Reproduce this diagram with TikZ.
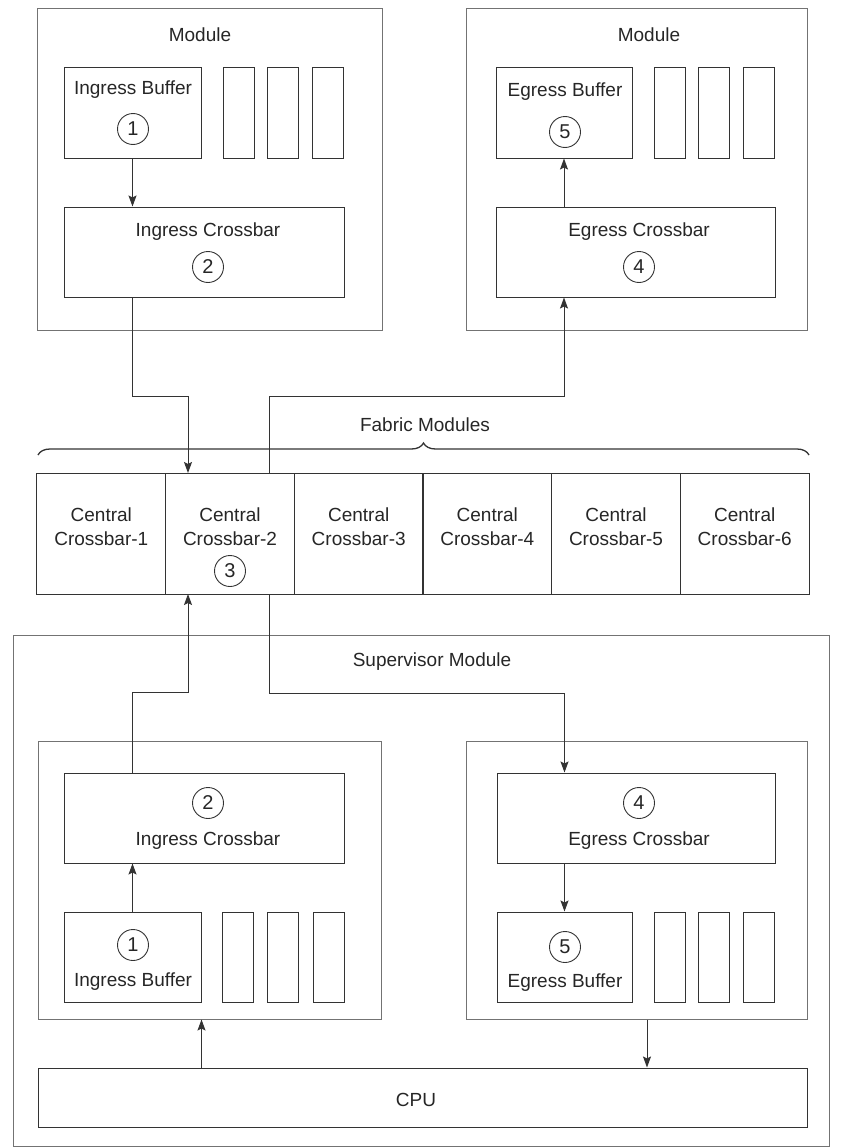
\documentclass[tikz,border=0pt]{standalone}
\usepackage{fontspec}
\setmainfont{Liberation Sans}
\usetikzlibrary{arrows.meta,decorations.pathreplacing,calc}
\begin{document}
\begin{tikzpicture}[x=1pt,y=-1pt,
  every node/.style={font=\fontsize{19}{24}\selectfont, text=black!85},
  outerbox/.style={draw=black!55, line width=1pt, inner sep=0pt},
  inbox/.style={draw=black!80, line width=1pt, inner sep=0pt},
  slot/.style={inbox, minimum width=31pt, minimum height=90pt},
  num/.style={draw=black!80, circle, line width=0.9pt, minimum size=31pt, inner sep=0pt, font=\fontsize{20}{20}\selectfont},
  lbl/.style={inner sep=0pt, anchor=center},
  arr/.style={draw=black!80, line width=1pt, -{Stealth[length=11pt,width=8pt,inset=2pt]}},
  ln/.style={draw=black!80, line width=1pt}]
\useasboundingbox (0,0) rectangle (842,1148);

% ---------- top-left module ----------
\node[outerbox, minimum width=345pt, minimum height=321pt] (mA) at (209.5,169.5) {};
\node[lbl] (mAl) at (200,35) {Module};
\node[inbox, minimum width=137pt, minimum height=90pt] (ibuf) at (132.5,113) {};
\node[lbl] (ibufl) at (133,90) {Ingress Buffer};
\node[num] (n1a) at (133,129) {1};
\node[slot] (sA1) at (238.5,113) {};
\node[slot] (sA2) at (283,113) {};
\node[slot] (sA3) at (327.5,113) {};
\node[inbox, minimum width=280pt, minimum height=90pt] (ixb) at (204,252) {};
\node[lbl] (ixbl) at (208,232) {Ingress Crossbar};
\node[num] (n2a) at (208,267) {2};

% ---------- top-right module ----------
\node[outerbox, minimum width=341pt, minimum height=321pt] (mB) at (636.5,169.5) {};
\node[lbl] (mBl) at (649,35) {Module};
\node[inbox, minimum width=136pt, minimum height=90pt] (ebuf) at (564,113) {};
\node[lbl] (ebufl) at (565,92) {Egress Buffer};
\node[num] (n5a) at (565,132) {5};
\node[slot] (sB1) at (669.5,113) {};
\node[slot] (sB2) at (714,113) {};
\node[slot] (sB3) at (758.5,113) {};
\node[inbox, minimum width=279pt, minimum height=90pt] (excb) at (635.5,252) {};
\node[lbl] (excbl) at (639,232) {Egress Crossbar};
\node[num] (n4a) at (639,267) {4};

\draw[arr] (ibuf.south) -- (ibuf.south |- ixb.north);
\draw[arr] (ebuf.south |- excb.north) -- (ebuf.south);

% ---------- fabric ----------
\node[lbl] (fabl) at (425,425) {Fabric Modules};
\draw[draw=black!80, line width=1.3pt, decorate, decoration={brace, amplitude=12pt}] (38,455) -- (809,455);
\foreach \i/\cx in {1/101.3,2/230,3/358.7,4/487.3,5/616,6/744.7}{
  \node[inbox, minimum width=128.67pt, minimum height=121pt] (c\i) at (\cx,533.5) {};
  \node[lbl, align=center] (c\i l) at (\cx,527) {Central\\Crossbar-\i};
}
\node[num] (n3) at (230,571) {3};

\coordinate (c2in) at (188,473);
\coordinate (c2out) at (269,473);
\coordinate (c2bin) at (188,594);
\coordinate (c2bout) at (269,594);

\draw[arr] (ibuf.south |- ixb.south) -- ++(0,99) -| (c2in);
\draw[arr] (c2out) -- ++(0,-77) -| (ebuf.south |- excb.south);

% ---------- supervisor ----------
\node[outerbox, minimum width=816pt, minimum height=511pt] (sup) at (421,890.5) {};
\node[lbl] (supl) at (432,662) {Supervisor Module};

\node[outerbox, minimum width=343pt, minimum height=278pt] (sin) at (209.5,880) {};
\node[inbox, minimum width=280pt, minimum height=90pt] (sixb) at (204,818) {};
\node[num] (n2b) at (208,803) {2};
\node[lbl] (sixbl) at (208,841) {Ingress Crossbar};
\node[inbox, minimum width=137pt, minimum height=90pt] (sibuf) at (132.5,957) {};
\node[num] (n1b) at (133,945) {1};
\node[lbl] (sibufl) at (133,982) {Ingress Buffer};
\node[slot] (sC1) at (238,957) {};
\node[slot] (sC2) at (283,957) {};
\node[slot] (sC3) at (328.5,957) {};

\node[outerbox, minimum width=341pt, minimum height=278pt] (sein) at (636.5,880) {};
\node[inbox, minimum width=278pt, minimum height=90pt] (sexb) at (636,818) {};
\node[num] (n4b) at (639,803) {4};
\node[lbl] (sexbl) at (639,841) {Egress Crossbar};
\node[inbox, minimum width=135pt, minimum height=90pt] (sebuf) at (564.5,957) {};
\node[num] (n5b) at (565,947) {5};
\node[lbl] (sebufl) at (565,983) {Egress Buffer};
\node[slot] (sD1) at (670,957) {};
\node[slot] (sD2) at (714,957) {};
\node[slot] (sD3) at (759,957) {};

\node[inbox, minimum width=769pt, minimum height=59pt] (cpu) at (422.5,1097.5) {};
\node[lbl] (cpul) at (416,1100) {CPU};

\draw[arr] (sibuf.north |- sixb.north) -- ++(0,-80) -| (c2bin);
\draw[arr] (c2bout) -- ++(0,99) -| (sebuf.north |- sexb.north);
\draw[arr] (sibuf.north) -- (sibuf.north |- sixb.south);
\draw[arr] (sebuf.north |- sexb.south) -- (sebuf.north);
\draw[arr] (sibuf.east |- cpu.north) -- (sibuf.east |- sin.south);
\coordinate (rdrop) at ([xshift=10.5pt]sein.south);
\draw[arr] (rdrop) -- (rdrop |- cpu.north);
\end{tikzpicture}
\end{document}
